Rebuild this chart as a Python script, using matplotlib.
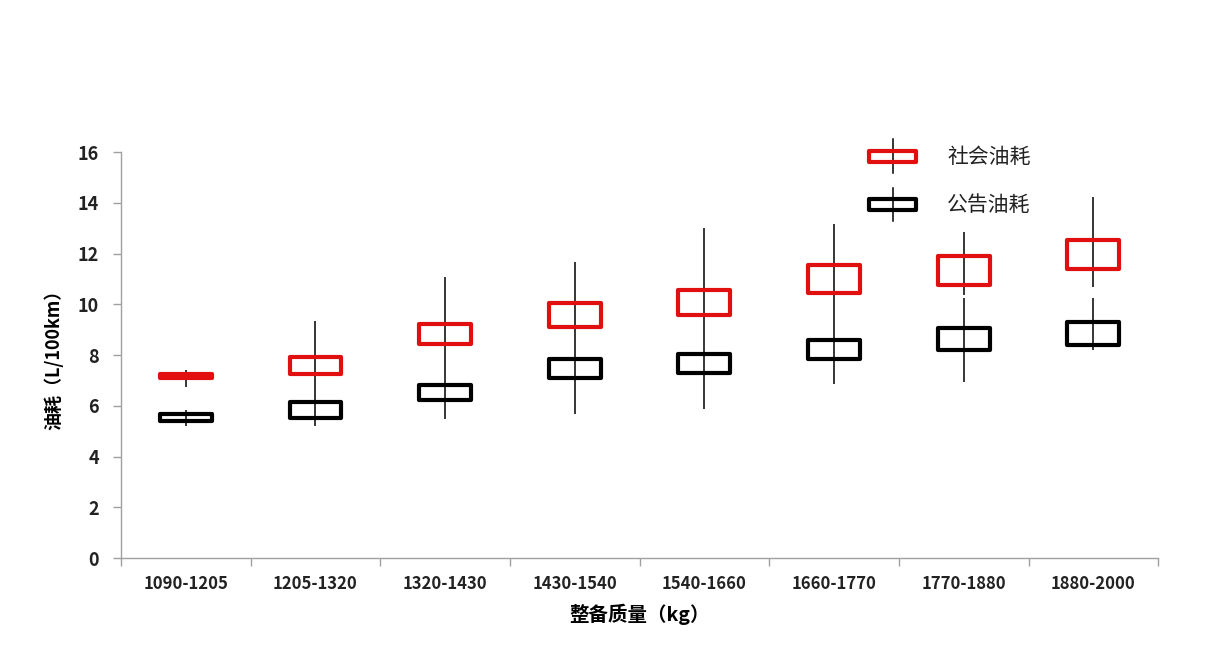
import matplotlib
matplotlib.use("Agg")
from matplotlib import pyplot as plt
from matplotlib.legend_handler import HandlerBase
from matplotlib.patches import Rectangle
from matplotlib.lines import Line2D

plt.rcParams['font.family'] = ['Noto Sans CJK SC', 'DejaVu Sans']

# weight classes (kg)
categories = ['1090-1205', '1205-1320', '1320-1430', '1430-1540',
              '1540-1660', '1660-1770', '1770-1880', '1880-2000']

# 社会油耗 (real-world consumption), L/100km
real_high = [7.4, 9.34, 11.07, 11.67, 13.0, 13.16, 12.85, 14.23]
real_low = [6.75, 7.0, 7.5, 8.5, 8.8, 9.3, 10.36, 10.68]
real_box_top = [7.25, 7.92, 9.22, 10.05, 10.56, 11.55, 11.9, 12.53]
real_box_bot = [7.1, 7.25, 8.43, 9.1, 9.58, 10.44, 10.76, 11.39]

# 公告油耗 (official consumption), L/100km
off_high = [5.83, 7.0, 7.5, 8.5, 8.8, 9.3, 10.25, 10.25]
off_low = [5.2, 5.2, 5.48, 5.67, 5.87, 6.86, 6.94, 8.2]
off_box_top = [5.67, 6.15, 6.82, 7.84, 8.04, 8.59, 9.06, 9.3]
off_box_bot = [5.4, 5.52, 6.23, 7.1, 7.29, 7.84, 8.2, 8.39]

RED = '#e01010'
BLACK = '#000000'
BOX_W = 0.40
BOX_LW = 3.0


class BoxHandler(HandlerBase):
    # legend key: small open box with a vertical line through it
    def __init__(self, color):
        super().__init__()
        self.color = color

    def create_artists(self, legend, orig_handle, xdescent, ydescent,
                       width, height, fontsize, trans):
        cx = width / 2 - xdescent
        cy = height / 2 - ydescent
        bw, bh = 34, 8
        line = Line2D([cx, cx], [cy - 12, cy + 12], color='black', lw=1.1,
                      transform=trans)
        rect = Rectangle((cx - bw / 2, cy - bh / 2), bw, bh, fill=False,
                         edgecolor=self.color, lw=BOX_LW, joinstyle='round',
                         transform=trans)
        return [line, rect]


fig = plt.figure(figsize=(12.14, 6.64), dpi=100)
ax = fig.add_axes([0.0997, 0.1596, 0.8543, 0.6114])

x = list(range(len(categories)))

# high-low lines
ax.vlines(x, real_low, real_high, color='black', lw=1.1, zorder=2)
ax.vlines(x, off_low, off_high, color='black', lw=1.1, zorder=2)

# open boxes
real_h = [t - b for t, b in zip(real_box_top, real_box_bot)]
off_h = [t - b for t, b in zip(off_box_top, off_box_bot)]
ax.bar(x, real_h, bottom=real_box_bot, width=BOX_W, fill=False,
       edgecolor=RED, linewidth=BOX_LW, joinstyle='round', zorder=3)
ax.bar(x, off_h, bottom=off_box_bot, width=BOX_W, fill=False,
       edgecolor=BLACK, linewidth=BOX_LW, joinstyle='round', zorder=3)

ax.set_xlim(-0.5, len(categories) - 0.5)
ax.set_ylim(0, 16)
ax.set_yticks(range(0, 17, 2))

ax.set_xticks(x)
ax.set_xticklabels(categories, fontsize=12, fontweight='bold', color='#222222')
ax.set_xticks([i - 0.5 for i in range(len(categories) + 1)], minor=True)
ax.tick_params(axis='x', which='major', length=0, pad=12)
ax.tick_params(axis='x', which='minor', length=6, color='#a0a0a0', width=1)
ax.tick_params(axis='y', length=6, color='#a0a0a0', width=1, pad=10,
               labelsize=13)
for lab in ax.get_yticklabels():
    lab.set_fontweight('bold')
    lab.set_color('#222222')

for s in ['top', 'right']:
    ax.spines[s].set_visible(False)
for s in ['left', 'bottom']:
    ax.spines[s].set_color('#a0a0a0')
    ax.spines[s].set_linewidth(1)

ax.set_xlabel('整备质量（kg）', fontsize=14, fontweight='bold', labelpad=8)
ax.set_ylabel('油耗（L/100km）', fontsize=13, fontweight='bold', labelpad=10)

h1 = Rectangle((0, 0), 1, 1)
h2 = Rectangle((0, 0), 1, 1)
ax.legend([h1, h2], ['社会油耗', '公告油耗'],
          handler_map={h1: BoxHandler(RED), h2: BoxHandler(BLACK)},
          loc='upper left', bbox_to_anchor=(0.70, 1.06), frameon=False,
          fontsize=15, handlelength=2.6, handletextpad=1.3, labelspacing=1.25,
          labelcolor='#222222')

fig.savefig('out.png', dpi=100, facecolor='white')
